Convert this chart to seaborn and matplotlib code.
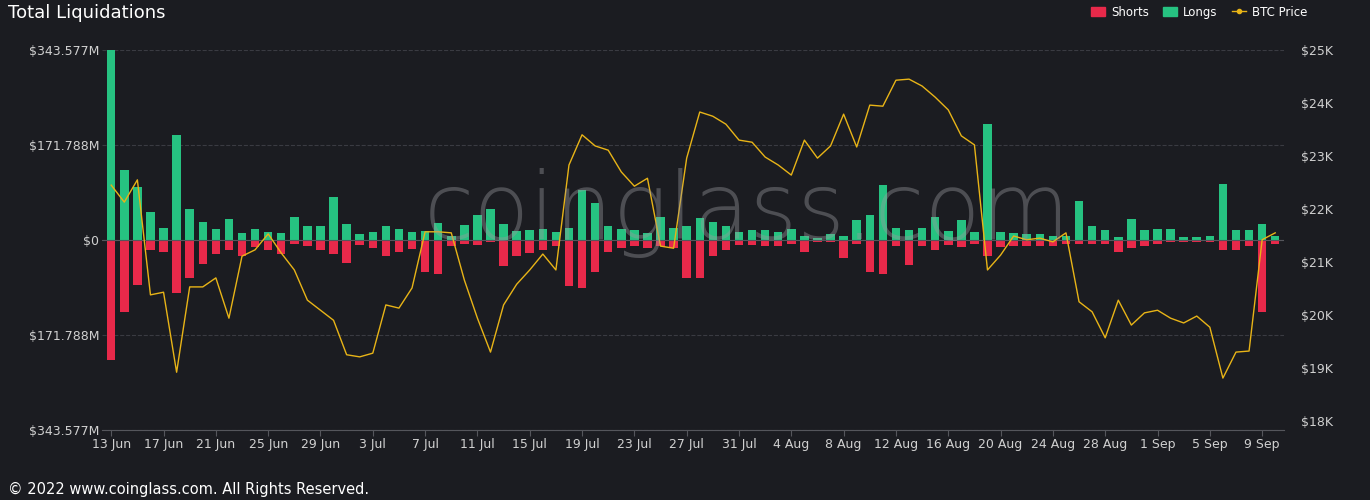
import numpy as np, pandas as pd, matplotlib
matplotlib.use("Agg")
import matplotlib.pyplot as plt
import seaborn as sns
from matplotlib.lines import Line2D
from matplotlib.patches import Patch

dates = pd.date_range("2022-06-13", "2022-09-10", freq="D")
longs = [343,127,96,51,22,190,56,33,20,38,13,20,14,13,42,25,25,78,29,11,14,25,20,14,16,31,7,27,45,56,
         29,16,18,20,14,22,90,67,25,20,18,13,42,22,25,40,33,25,14,18,18,14,20,7,4,11,7,36,45,100,
         22,18,22,42,16,36,14,210,14,13,11,11,7,7,71,25,18,5,38,18,20,20,5,5,7,101,18,18,29,7]
shorts = [217,130,81,18,22,96,69,43,25,18,29,13,18,25,7,11,18,25,42,9,14,29,22,16,58,61,11,7,9,4,
          47,29,24,18,11,83,87,58,22,14,11,14,11,14,69,69,29,18,9,9,11,11,7,22,4,4,33,7,58,61,
          11,45,11,18,9,13,7,29,13,11,11,11,11,7,7,7,7,22,14,11,7,4,4,4,4,18,18,11,130,7]
price = [22.45,22.13,22.55,20.38,20.43,18.92,20.53,20.53,20.7,19.94,21.11,21.23,21.53,21.17,20.85,20.28,20.09,19.9,19.25,19.21,
         19.28,20.19,20.13,20.51,21.57,21.57,21.55,20.66,19.94,19.3,20.19,20.58,20.85,21.15,20.85,22.83,23.4,23.19,23.11,22.7,
         22.43,22.58,21.3,21.26,22.96,23.83,23.75,23.6,23.3,23.26,22.98,22.83,22.64,23.3,22.96,23.19,23.79,23.17,23.96,23.94,
         24.43,24.45,24.32,24.11,23.87,23.38,23.21,20.85,21.13,21.49,21.42,21.45,21.38,21.55,20.25,20.06,19.57,20.28,19.81,20.04,
         20.09,19.94,19.85,19.98,19.77,18.81,19.3,19.32,21.42,21.55]
left_ticks = [-343.577, -171.788, 0, 171.788, 343.577]
left_labels = ["$343.577M", "$171.788M", "$0", "$171.788M", "$343.577M"]
right_ticks = [18, 19, 20, 21, 22, 23, 24, 25]
right_labels = ["$18K", "$19K", "$20K", "$21K", "$22K", "$23K", "$24K", "$25K"]

BG = "#1b1c21"
GREEN, RED, GOLD = "#26c281", "#e8294a", "#e8b417"
df = pd.DataFrame({"i": np.arange(len(dates)), "long": longs, "short": [-s for s in shorts], "price": price})

fig = plt.figure(figsize=(13.7, 5), dpi=100, facecolor=BG)
ax = fig.add_axes([0.0745, 0.14, 0.863, 0.76], facecolor=BG)
sns.barplot(data=df, x="i", y="long", color=GREEN, native_scale=True, width=0.65, ax=ax, saturation=1)
sns.barplot(data=df, x="i", y="short", color=RED, native_scale=True, width=0.65, ax=ax, saturation=1)
ax.set_ylim(-343.577, 343.577)
ax.set_xlim(-0.7, len(dates) - 0.3)
ax.set_yticks(left_ticks, left_labels)
xt = list(range(0, len(dates), 4))
ax.set_xticks(xt, [f"{dates[k].day} {dates[k].strftime('%b')}" for k in xt])
ax.grid(axis="y", color="#3a3b42", linestyle="--", linewidth=0.8)
ax.set_axisbelow(True)
ax.axhline(0, color="#55565c", lw=0.8)
ax.set_xlabel(""); ax.set_ylabel("")
for s in ax.spines.values(): s.set_visible(False)
ax.spines["bottom"].set_visible(True); ax.spines["bottom"].set_color("#55565c")
ax.tick_params(colors="#d0d0d0", labelsize=9, length=0, pad=2)
ax.tick_params(axis="x", length=4, color="#55565c")

ax2 = ax.twinx()
sns.lineplot(data=df, x="i", y="price", color=GOLD, lw=1, ax=ax2)
ax2.set_ylim(18 - 9/53, 25)
ax2.set_yticks(right_ticks, right_labels)
ax2.set_xlabel(""); ax2.set_ylabel("")
for s in ax2.spines.values(): s.set_visible(False)
ax2.tick_params(colors="#d0d0d0", labelsize=9, length=0, pad=12)

fig.text(0.545, 0.575, "coinglass.com", color="#9a9a9f", alpha=0.4, fontsize=66, ha="center", va="center", fontweight="light")
fig.text(0.006, 0.975, "Total Liquidations", color="white", fontsize=13, va="center")
fig.text(0.006, 0.022, "© 2022 www.coinglass.com. All Rights Reserved.", color="white", fontsize=10.5, va="center")
handles = [Patch(color=RED, label="Shorts"), Patch(color=GREEN, label="Longs"),
           Line2D([], [], color=GOLD, marker="o", markersize=3, lw=1, label="BTC Price")]
fig.legend(handles=handles, loc="upper right", bbox_to_anchor=(0.962, 1.01), ncol=3, frameon=False,
           labelcolor="white", fontsize=8.5, handlelength=1.2, columnspacing=1.2, handletextpad=0.5)
fig.savefig("out.png", facecolor=BG)
